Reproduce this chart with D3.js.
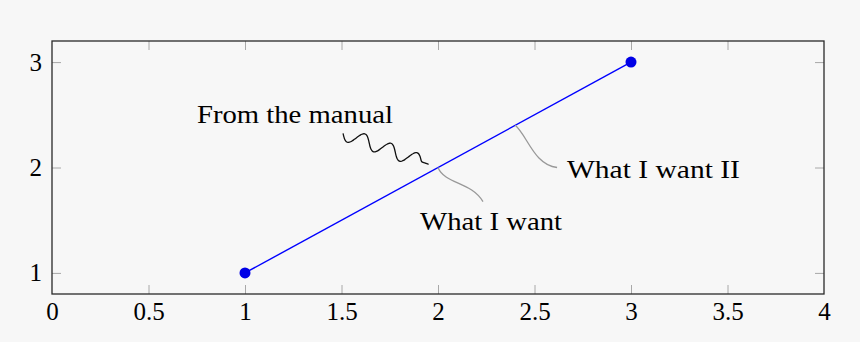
<!DOCTYPE html>
<html>
<head>
<meta charset="utf-8">
<script src="https://cdn.jsdelivr.net/npm/d3@7"></script>
<style>
  body { margin: 0; background: #f7f7f7; }
  text { font-family: "Liberation Serif", serif; fill: #000; }
</style>
</head>
<body>
<div id="chart"></div>
<script>
// data

var xTicks = [0, 0.5, 1, 1.5, 2, 2.5, 3, 3.5, 4],
    xTickLabels = ["0", "0.5", "1", "1.5", "2", "2.5", "3", "3.5", "4"],
    yTicks = [1, 2, 3],
    yTickLabels = ["1", "2", "3"],
    lineX = [1, 3],
    lineY = [1, 3];

// annotations: text, pinned point on the line (data units), label spot (data units)
var noteText = ["What I want", "What I want II"],
    notePinX = [2, 2.4],
    notePinY = [2, 2.4],
    noteEndX = [2.233, 2.617],
    noteEndY = [1.676, 2.0],
    noteLabelX = [1.907, 2.668],
    noteLabelY = [1.41, 1.905];

var manualText = "From the manual",
    manualFrom = [1.508, 2.324],
    manualTo = [1.953, 2.029],
    manualLabel = [0.751, 2.419];

var w = 860,
    h = 342,
    svg = d3.select("#chart")
            .append("svg")
            .attr("width", w)
            .attr("height", h);

var x = d3.scaleLinear().domain([0, 4]).range([52, 824]);
var y = d3.scaleLinear().domain([0.8, 3.2]).range([294, 41]);

var fontSize = "25px";

// tick marks pointing inward on all four sides
function tickMarks(axis, pos, len) {
    svg.append("g")
        .attr("transform", pos)
        .call(axis.tickSize(len).tickFormat(""))
        .call(function(g) {
            g.select(".domain").remove();
            g.selectAll("line").attr("stroke", "#a8a8a8").attr("stroke-width", 1);
        });
}
tickMarks(d3.axisTop(x).tickValues(xTicks.slice(1, -1)), "translate(0,294)", 9);
tickMarks(d3.axisBottom(x).tickValues(xTicks.slice(1, -1)), "translate(0,41)", 9);
tickMarks(d3.axisRight(y).tickValues(yTicks), "translate(52,0)", 9);
tickMarks(d3.axisLeft(y).tickValues(yTicks), "translate(824,0)", 9);

// tick labels
svg.append("g")
    .attr("transform", "translate(0,294)")
    .call(d3.axisBottom(x).tickValues(xTicks).tickSize(0).tickPadding(8)
        .tickFormat(function(d, i) { return xTickLabels[i]; }))
    .call(function(g) {
        g.select(".domain").remove();
        g.selectAll("text").style("font-size", fontSize);
    });

svg.append("g")
    .attr("transform", "translate(52,0)")
    .call(d3.axisLeft(y).tickValues(yTicks).tickSize(0).tickPadding(10)
        .tickFormat(function(d, i) { return yTickLabels[i]; }))
    .call(function(g) {
        g.select(".domain").remove();
        g.selectAll("text").style("font-size", fontSize);
    });

// frame
svg.append("rect")
    .attr("x", x(0))
    .attr("y", y(3.2))
    .attr("width", x(4) - x(0))
    .attr("height", y(0.8) - y(3.2))
    .attr("fill", "none")
    .attr("stroke", "#2a2a2a")
    .attr("stroke-width", 1.3);

// the data line
var pts = lineX.map(function(d, i) { return [d, lineY[i]]; });

svg.append("path")
    .datum(pts)
    .attr("fill", "none")
    .attr("stroke", "#0000ff")
    .attr("stroke-width", 1.4)
    .attr("d", d3.line()
        .x(function(d) { return x(d[0]); })
        .y(function(d) { return y(d[1]); }));

svg.selectAll(".dot")
    .data(pts)
    .enter().append("circle")
    .attr("class", "dot")
    .attr("cx", function(d) { return x(d[0]); })
    .attr("cy", function(d) { return y(d[1]); })
    .attr("r", 5.5)
    .attr("fill", "#0000e6");

// gray pin curves
var bends = [[[7, 17], [33, 14]], [[12, 10], [19, 40]]];
noteText.forEach(function(t, i) {
    var x0 = x(notePinX[i]), y0 = y(notePinY[i]),
        x1 = x(noteEndX[i]), y1 = y(noteEndY[i]),
        b = bends[i];
    svg.append("path")
        .attr("d", "M" + x0 + "," + y0 +
            "C" + (x0 + b[0][0]) + "," + (y0 + b[0][1]) + " " +
            (x0 + b[1][0]) + "," + (y0 + b[1][1]) + " " + x1 + "," + y1)
        .attr("fill", "none")
        .attr("stroke", "#999")
        .attr("stroke-width", 1.3);
    svg.append("text")
        .attr("x", x(noteLabelX[i]))
        .attr("y", y(noteLabelY[i]))
        .style("font-size", fontSize)
        .attr("textLength", i == 0 ? 142 : 173)
        .attr("lengthAdjust", "spacingAndGlyphs")
        .text(t);
});

// snake pin for the manual label
var sx0 = x(manualFrom[0]), sy0 = y(manualFrom[1]),
    sx1 = x(manualTo[0]), sy1 = y(manualTo[1]),
    len = Math.hypot(sx1 - sx0, sy1 - sy0),
    ux = (sx1 - sx0) / len, uy = (sy1 - sy0) / len,
    snake = [];
for (var s = 0; s <= len; s += 1) {
    var off = 7 * Math.sin(s / (len - 8) * 3 * 2 * Math.PI);
    if (s > len - 8) off = 0;
    snake.push([sx0 + ux * s - uy * off, sy0 + uy * s + ux * off]);
}
svg.append("path")
    .attr("d", d3.line().curve(d3.curveBasis)(snake))
    .attr("fill", "none")
    .attr("stroke", "#111")
    .attr("stroke-width", 1.3);

svg.append("text")
    .attr("x", x(manualLabel[0]))
    .attr("y", y(manualLabel[1]))
    .style("font-size", fontSize)
    .attr("textLength", 196)
    .attr("lengthAdjust", "spacingAndGlyphs")
    .text(manualText);
</script>
</body>
</html>
